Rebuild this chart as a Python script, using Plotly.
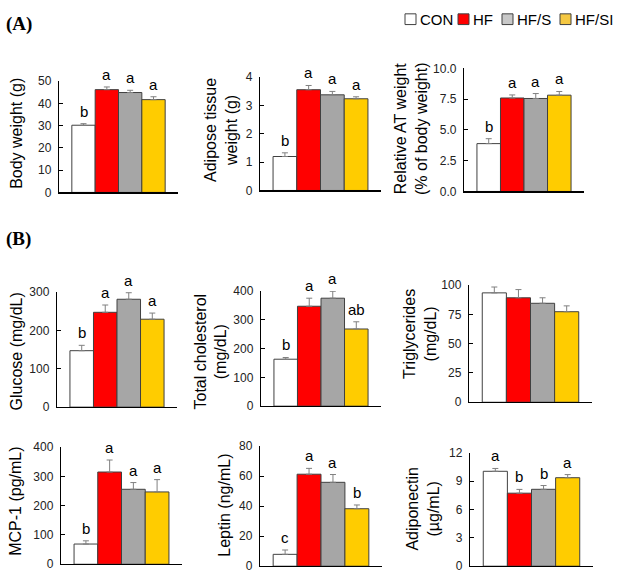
import plotly.graph_objects as go

# ---------------- data ----------------
groups = ["CON", "HF", "HF/S", "HF/SI"]
group_colors = ["#ffffff", "#ff0000", "#a6a6a6", "#ffcc00"]

body_weight = [30.2, 46.2, 44.9, 41.7]
body_weight_err = [0.7, 1.2, 1.0, 1.3]
body_weight_sig = ["b", "a", "a", "a"]

adipose = [1.2, 3.56, 3.38, 3.24]
adipose_err = [0.13, 0.15, 0.12, 0.07]
adipose_sig = ["b", "a", "a", "a"]

relative_at = [3.89, 7.6, 7.56, 7.83]
relative_at_err = [0.4, 0.25, 0.4, 0.3]
relative_at_sig = ["b", "a", "a", "a"]

glucose = [147, 247, 281, 229]
glucose_err = [14, 19, 17, 16]
glucose_sig = ["b", "a", "a", "a"]

cholesterol = [163, 347, 375, 268]
cholesterol_err = [6, 28, 24, 25]
cholesterol_sig = ["b", "a", "a", "ab"]

triglycerides = [93.4, 89.2, 84.5, 77.3]
triglycerides_err = [5, 7, 4.7, 5]
triglycerides_sig = ["", "", "", ""]

mcp1 = [69, 315, 256, 247]
mcp1_err = [11, 41, 23, 42]
mcp1_sig = ["b", "a", "a", "a"]

leptin = [7.9, 61.3, 55.9, 38.3]
leptin_err = [2.9, 3.9, 5.2, 2.5]
leptin_sig = ["c", "a", "a", "b"]

adiponectin = [10.06, 7.74, 8.15, 9.38]
adiponectin_err = [0.3, 0.4, 0.4, 0.33]
adiponectin_sig = ["a", "b", "b", "a"]

W, H = 625, 581
FONT = "Liberation Sans, Arial, sans-serif"

# panel specs: values, errors, letters, y-title, ticks, domain(px), title position(px)
panels = [
    (body_weight, body_weight_err, body_weight_sig, "Body weight (g)",
     [0, 10, 20, 30, 40, 50], None, (59, 178, 76, 190), (17, 130)),
    (adipose, adipose_err, adipose_sig, "Adipose tissue<br>weight (g)",
     [0, 1, 2, 3, 4], None, (260, 381, 72, 188), (221, 126)),
    (relative_at, relative_at_err, relative_at_sig, "Relative AT weight<br>(% of body weight)",
     [0, 2.5, 5, 7.5, 10], ".1f", (464, 584, 63, 189), (411, 125)),
    (glucose, glucose_err, glucose_sig, "Glucose (mg/dL)",
     [0, 100, 200, 300], None, (57, 177, 292, 410), (16, 353)),
    (cholesterol, cholesterol_err, cholesterol_sig, "Total cholesterol<br>(mg/dL)",
     [0, 100, 200, 300, 400], None, (261, 381, 291, 409), (211, 353)),
    (triglycerides, triglycerides_err, triglycerides_sig, "Triglycerides<br>(mg/dL)",
     [0, 25, 50, 75, 100], None, (469, 592, 285, 405), (420, 335)),
    (mcp1, mcp1_err, mcp1_sig, "MCP-1 (pg/mL)",
     [0, 100, 200, 300, 400], None, (61, 182, 451, 571), (16, 507)),
    (leptin, leptin_err, leptin_sig, "Leptin (ng/mL)",
     [0, 20, 40, 60, 80], None, (260, 382, 450, 573), (225, 511)),
    (adiponectin, adiponectin_err, adiponectin_sig, "Adiponectin<br>(µg/mL)",
     [0, 3, 6, 9, 12], None, (470, 593, 457, 573), (423, 514)),
]

def px(x):
    return x / W

def py(y):
    return 1 - y / H

fig = go.Figure()
layout = dict(
    width=W, height=H,
    margin=dict(l=0, r=0, t=0, b=0),
    paper_bgcolor="white", plot_bgcolor="white",
    showlegend=False, bargap=0,
    font=dict(family=FONT, color="#000000"),
)
annotations = []
shapes = []

for i, (vals, errs, sig, title, ticks, fmt, dom, tpos) in enumerate(panels):
    n = "" if i == 0 else str(i + 1)
    xa, ya = "x" + n, "y" + n
    for g in range(len(groups)):
        fig.add_trace(go.Bar(
            x=[g], y=[vals[g]], width=1.0,
            marker=dict(color=group_colors[g], line=dict(color="#404040", width=1)),
            error_y=dict(type="data", symmetric=False, array=[errs[g]], arrayminus=[0],
                         color="#808080", thickness=1, width=3),
            xaxis=xa, yaxis=ya, name=groups[g],
        ))
        if sig[g]:
            annotations.append(dict(
                x=g, y=vals[g] + errs[g], xref=xa, yref=ya, text=sig[g],
                showarrow=False, yanchor="bottom", yshift=2,
                font=dict(family=FONT, size=15, color="#000000"),
            ))
    x0, x1, y0, y1 = dom
    layout["xaxis" + n] = dict(
        domain=[px(x0), px(x1)], range=[-1.05, 4.05], anchor=ya,
        showline=True, linecolor="#000000", linewidth=1.2,
        showticklabels=False, ticks="", showgrid=False, zeroline=False, fixedrange=True,
    )
    ydict = dict(
        domain=[py(y1), py(y0)], range=[0, ticks[-1]], anchor=xa,
        showline=True, linecolor="#000000", linewidth=1.2,
        ticks="inside", ticklen=4, tickcolor="#000000",
        tickvals=ticks, showgrid=False, zeroline=False,
        ticklabelstandoff=4,
        tickfont=dict(family=FONT, size=12, color="#222222"),
    )
    if fmt:
        ydict["tickformat"] = fmt
    layout["yaxis" + n] = ydict
    annotations.append(dict(
        x=px(tpos[0]), y=py(tpos[1]), xref="paper", yref="paper", text=title,
        textangle=-90, showarrow=False, xanchor="center", yanchor="middle",
        font=dict(family=FONT, size=16, color="#000000"),
    ))

# panel labels
for lab, (lx, ly) in [("(A)", (4, 17)), ("(B)", (4, 238))]:
    annotations.append(dict(
        x=px(lx), y=py(ly), xref="paper", yref="paper", text="<b>" + lab + "</b>",
        showarrow=False, xanchor="left", yanchor="middle",
        font=dict(family="Liberation Serif, Times New Roman, serif", size=19, color="#000000"),
    ))

# legend (drawn as shapes + text)
legend_x = [405, 458, 502, 560]
legend_colors = ["#ffffff", "#ff0000", "#c8c8c8", "#f5c842"]
for g in range(len(groups)):
    sx = legend_x[g]
    shapes.append(dict(
        type="rect", xref="paper", yref="paper",
        x0=px(sx), x1=px(sx + 11), y0=py(18), y1=py(7),
        fillcolor=legend_colors[g], line=dict(color="#404040", width=1),
    ))
    annotations.append(dict(
        x=px(sx + 13), y=py(12.5), xref="paper", yref="paper", text=groups[g],
        showarrow=False, xanchor="left", yanchor="middle",
        font=dict(family=FONT, size=15, color="#000000"),
    ))

layout["annotations"] = annotations
layout["shapes"] = shapes
fig.update_layout(**layout)
fig.write_html(
    "out.html",
    config={"displayModeBar": False, "staticPlot": True},
    post_script="document.body.style.margin='0';document.body.style.overflow='hidden';",
)
